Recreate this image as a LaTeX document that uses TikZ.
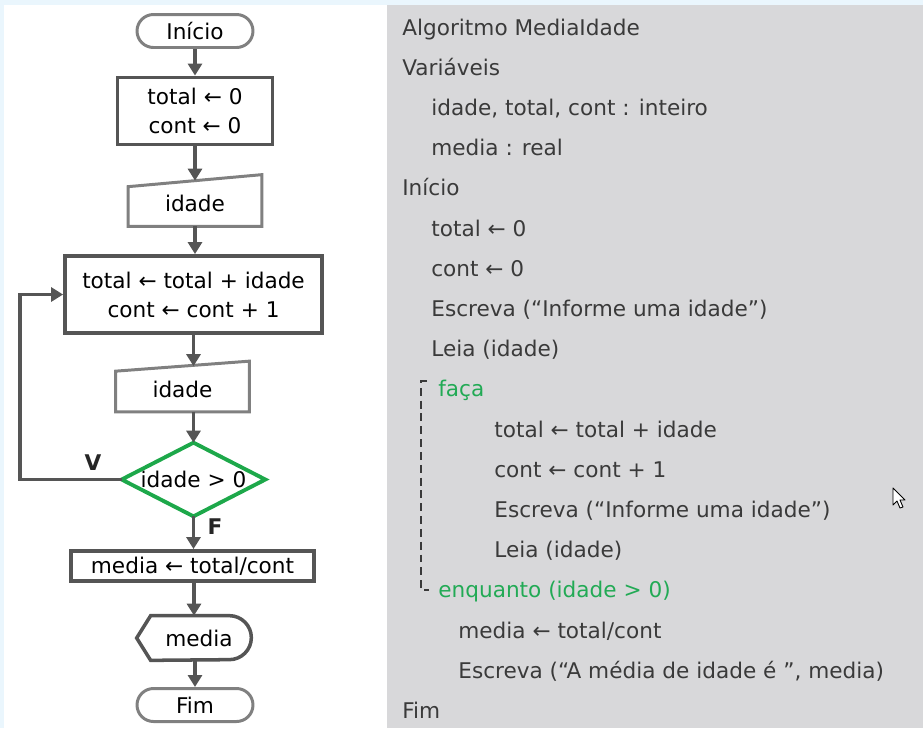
\documentclass[tikz,border=0pt]{standalone}
\usepackage{fontspec}
\setmainfont{DejaVu Sans}
\usetikzlibrary{arrows.meta, positioning}
\definecolor{bordaEsc}{HTML}{555555}
\definecolor{bordaClara}{HTML}{808080}
\definecolor{verdeFluxo}{HTML}{1DA84A}
\definecolor{verdeCod}{HTML}{22AA55}
\definecolor{fundoCod}{HTML}{D8D8DA}
\definecolor{textoCod}{HTML}{3A3A3A}
\definecolor{azulBorda}{HTML}{EAF6FD}

\tikzset{
  terminal/.style={draw=bordaClara, line width=1.7pt, rounded corners=0.33cm,
    minimum width=2.32cm, minimum height=0.66cm, inner sep=0pt},
  processo/.style={draw=bordaEsc, line width=2.2pt, align=center, inner sep=0pt},
  entrada/.style={minimum width=2.66cm, minimum height=0.9cm, inner sep=0pt},
  seta/.style={-{Triangle[length=0.24cm, width=0.28cm]}, draw=bordaEsc, line width=2.2pt},
  codigo/.style={text=textoCod, anchor=base west, inner sep=0pt},
  codverde/.style={text=verdeCod, anchor=base west, inner sep=0pt},
  rotulo/.style={font=\fontsize{12.3}{14}\selectfont\bfseries, text=black!85}
}

\begin{document}
\begin{tikzpicture}[x=0.02cm, y=-0.02cm, font=\fontsize{12.3}{16.5}\selectfont]
    \useasboundingbox (0,0) rectangle (923,728);
    \fill[azulBorda] (0,0) rectangle (923,5);
    \fill[azulBorda] (0,0) rectangle (4,728);

    % fluxograma
    \node[terminal] (inicio) at (195,31) {Início};
    \node[processo, minimum width=3.1cm, minimum height=1.34cm] (ini) at (195,111)
        {total ← 0\\cont ← 0};
    \node[entrada] (leitura1) at (195,203.5) {idade};
    \draw[bordaClara, line width=1.7pt] (leitura1.south west) -- (leitura1.south east)
        -- ([yshift=0.12cm]leitura1.north east) -- ([yshift=-0.12cm]leitura1.north west) -- cycle;
    \node[processo, minimum width=5.14cm, minimum height=1.54cm] (corpo) at (193.5,294.5)
        {total ← total + idade\\cont ← cont + 1};
    \node[entrada] (leitura2) at (182.5,389) {idade};
    \draw[bordaClara, line width=1.7pt] (leitura2.south west) -- (leitura2.south east)
        -- ([yshift=0.1cm]leitura2.north east) -- ([yshift=-0.1cm]leitura2.north west) -- cycle;
    \node[minimum width=2.86cm, minimum height=1.46cm, inner sep=0pt] (teste) at (193.5,479.5) {idade > 0};
    \draw[verdeFluxo, line width=2.2pt] (teste.north) -- (teste.east) -- (teste.south)
        -- (teste.west) -- cycle;
    \node[processo, minimum width=4.86cm, minimum height=0.6cm] (calc) at (192.5,566)
        {media ← total/cont};
    \node[minimum width=2.28cm, minimum height=0.88cm, inner sep=0pt] (saida) at (194,638) {\hspace{0.2cm}media};
    \draw[bordaEsc, line width=2pt] (saida.west) -- ([xshift=0.28cm]saida.north west)
        -- ([xshift=-0.44cm]saida.north east) arc[start angle=90, end angle=-90, radius=0.44cm]
        -- ([xshift=0.28cm]saida.south west) -- cycle;
    \node[terminal] (fim) at (195,705) {Fim};

    % conectores
    \draw[seta] (inicio) -- (ini);
    \draw[seta] (ini) -- (leitura1.north -| ini);
    \draw[seta] (leitura1) -- (corpo.north -| leitura1);
    \draw[seta] (corpo.south) -- (leitura2.north -| corpo.south);
    \draw[seta] (leitura2.south -| teste) -- (teste.north);
    \draw[seta] (teste.south) -- (calc.north -| teste.south);
    \draw[seta] (calc.south -| saida) -- (saida.north);
    \draw[seta] (saida.south -| fim) -- (fim.north);
    \coordinate (volta) at (20,479.5);
    \draw[seta, line width=1.8pt] (teste.west) -- (volta) |- (corpo.west);
    \node[rotulo] (v) at (93,463) {V};
    \node[rotulo] (f) at (215,527) {F};

    % pseudocodigo
    \fill[fundoCod] (387,5) rectangle (923,728);
    \foreach \i/\x/\s/\t in {0/402/codigo/{Algoritmo MediaIdade}, 1/402/codigo/{Variáveis},
        2/431/codigo/{idade, total, cont : inteiro}, 3/431/codigo/{media : real},
        4/402/codigo/{Início}, 5/431/codigo/{total ← 0}, 6/431/codigo/{cont ← 0},
        7/431/codigo/{Escreva (“Informe uma idade”)}, 8/431/codigo/{Leia (idade)},
        9/438/codverde/{faça}, 10/494/codigo/{total ← total + idade},
        11/494/codigo/{cont ← cont + 1}, 12/494/codigo/{Escreva (“Informe uma idade”)},
        13/494/codigo/{Leia (idade)}, 14/438/codverde/{enquanto (idade > 0)},
        15/458/codigo/{media ← total/cont}, 16/458/codigo/{Escreva (“A média de idade é ”, media)},
        17/402/codigo/{Fim}}
        \node[\s] (ln\i) at (\x,{35+40.2*\i}) {\t};
    \draw[textoCod, line width=0.6pt, dash pattern=on 4.5pt off 2.8pt]
        (427,381) -- (421,381) -- (421,590) -- (429,590);

    % cursor
    \draw[black, fill=white, line width=0.5pt, line join=round] (893,488) -- (893,505) -- (897,501)
        -- (900,508) -- (903,507) -- (900,500) -- (905,500) -- cycle;
\end{tikzpicture}
\end{document}
